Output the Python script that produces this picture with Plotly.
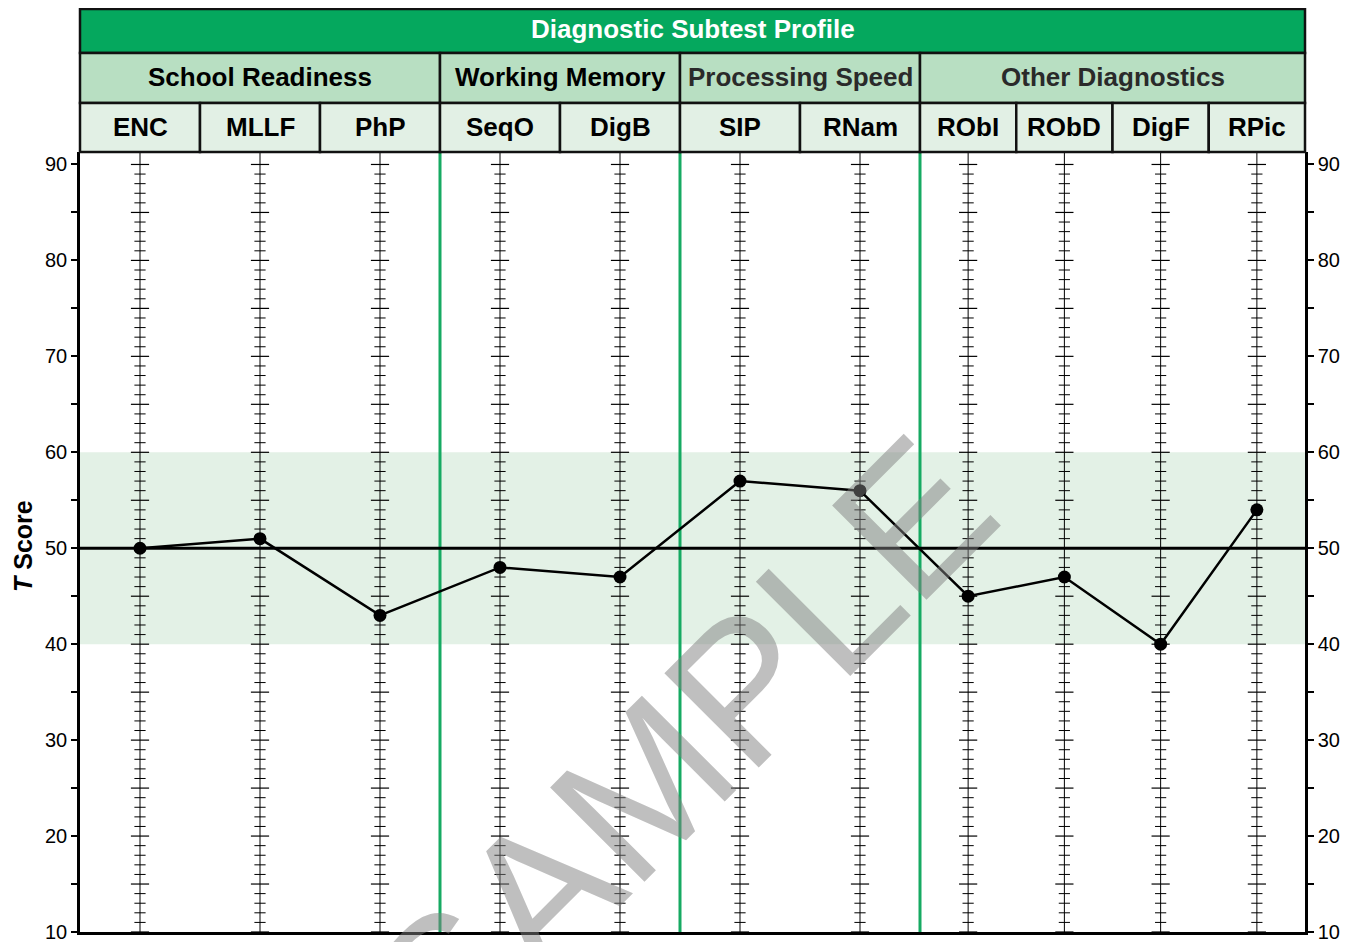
import plotly.graph_objects as go

# ---------------- data ----------------
chart_title = "Diagnostic Subtest Profile"
group_names = ["School Readiness", "Working Memory", "Processing Speed", "Other Diagnostics"]
group_counts = [3, 2, 2, 4]
subtests = ["ENC", "MLLF", "PhP", "SeqO", "DigB", "SIP", "RNam", "RObI", "RObD", "DigF", "RPic"]
t_scores = [50, 51, 43, 48, 47, 57, 56, 45, 47, 40, 54]
y_tick_values = [10, 20, 30, 40, 50, 60, 70, 80, 90]
average_band = [40, 60]
mean_score = 50
y_axis_title = "<b><i>T</i> Score</b>"
watermark_text = "SAMPLE"

# ---------------- layout constants (figure pixels) ----------------
W, H = 1346, 934
L, R = 72, 1297
TOP, BOT = 144, 924
HEADER_TOP, ROW1, ROW2 = 0, 45, 95
cell_w = [120] * 7 + [96.25] * 4
Y_MIN, Y_MAX = 10, 91.3
FONT = "Liberation Sans, Arial, sans-serif"
TITLE_GREEN = "#05A85E"
GROUP_GREEN = "#B8DFC2"
CELL_GREEN = "#E2F0E5"
BAND_GREEN = "#E3F1E6"
SEP_GREEN = "#16AA62"
BORDER = "#111111"

XW = R - L
edges = [0.0]
for w in cell_w:
    edges.append(edges[-1] + w)
centers = [(edges[i] + edges[i + 1]) / 2 for i in range(len(cell_w))]
group_edges = [0]
for c in group_counts:
    group_edges.append(group_edges[-1] + c)


def px(xd):
    return xd / XW


def py(p):
    return (BOT - p) / (BOT - TOP)


fig = go.Figure()

# vertical scale lines at each subtest
vx, vy = [], []
for c in centers:
    vx += [c, c, None]
    vy += [Y_MIN, Y_MAX, None]
fig.add_trace(go.Scatter(x=vx, y=vy, mode="lines", line=dict(color="black", width=1),
                         hoverinfo="skip", showlegend=False))

# small & large tick marks along the scale lines
sx, sy, bx, by = [], [], [], []
for c in centers:
    for v in range(Y_MIN, 91):
        if v % 5 == 0:
            bx.append(c); by.append(v)
        else:
            sx.append(c); sy.append(v)
fig.add_trace(go.Scatter(x=sx, y=sy, mode="markers",
                         marker=dict(symbol="line-ew", size=8, line=dict(color="black", width=1)),
                         hoverinfo="skip", showlegend=False))
fig.add_trace(go.Scatter(x=bx, y=by, mode="markers",
                         marker=dict(symbol="line-ew", size=13, line=dict(color="black", width=1.2)),
                         hoverinfo="skip", showlegend=False))

# mean line
fig.add_trace(go.Scatter(x=[0, XW], y=[mean_score, mean_score], mode="lines",
                         line=dict(color="black", width=3), hoverinfo="skip", showlegend=False))

# profile
fig.add_trace(go.Scatter(x=centers, y=t_scores, mode="lines+markers",
                         line=dict(color="black", width=2.5),
                         marker=dict(color="black", size=13),
                         text=subtests, showlegend=False))

# dummy trace for right axis
fig.add_trace(go.Scatter(x=[centers[0]], y=[mean_score], yaxis="y2", mode="markers",
                         marker=dict(opacity=0), hoverinfo="skip", showlegend=False))

shapes = []
# average band
shapes.append(dict(type="rect", xref="paper", yref="y", x0=0, x1=1,
                   y0=average_band[0], y1=average_band[1],
                   fillcolor=BAND_GREEN, line=dict(width=0), layer="below"))
# group separators
for g in group_edges[1:-1]:
    shapes.append(dict(type="line", xref="paper", yref="paper", x0=px(edges[g]), x1=px(edges[g]),
                       y0=0, y1=1, line=dict(color=SEP_GREEN, width=3), layer="below"))
# header title bar
shapes.append(dict(type="rect", xref="paper", yref="paper", x0=0, x1=1,
                   y0=py(ROW1), y1=py(HEADER_TOP + 1), fillcolor=TITLE_GREEN,
                   line=dict(color=BORDER, width=2.5)))
# group row
for i in range(len(group_names)):
    shapes.append(dict(type="rect", xref="paper", yref="paper",
                       x0=px(edges[group_edges[i]]), x1=px(edges[group_edges[i + 1]]),
                       y0=py(ROW2), y1=py(ROW1), fillcolor=GROUP_GREEN,
                       line=dict(color=BORDER, width=2.5)))
# subtest row
for i in range(len(subtests)):
    shapes.append(dict(type="rect", xref="paper", yref="paper",
                       x0=px(edges[i]), x1=px(edges[i + 1]),
                       y0=py(TOP), y1=py(ROW2), fillcolor=CELL_GREEN,
                       line=dict(color=BORDER, width=2.5)))

annotations = []
annotations.append(dict(text="<b>" + chart_title + "</b>", xref="paper", yref="paper",
                        x=0.5, y=py(21), showarrow=False,
                        font=dict(family=FONT, size=26, color="white"),
                        xanchor="center", yanchor="middle"))
group_colors = ["#000000", "#000000", "#2a2a2a", "#2a2a2a"]
for i, gname in enumerate(group_names):
    xc = (edges[group_edges[i]] + edges[group_edges[i + 1]]) / 2
    annotations.append(dict(text="<b>" + gname + "</b>", xref="x", yref="paper",
                            x=xc, y=py(69), showarrow=False,
                            font=dict(family=FONT, size=26, color=group_colors[i]),
                            xanchor="center", yanchor="middle"))
for i, s in enumerate(subtests):
    annotations.append(dict(text="<b>" + s + "</b>", xref="x", yref="paper",
                            x=centers[i], y=py(119), showarrow=False,
                            font=dict(family=FONT, size=26, color="black"),
                            xanchor="center", yanchor="middle"))
annotations.append(dict(text=y_axis_title, xref="paper", yref="paper",
                        x=px(15 - L), y=py(538), textangle=-90, showarrow=False,
                        font=dict(family=FONT, size=25, color="black"),
                        xanchor="center", yanchor="middle"))
annotations.append(dict(text=watermark_text, xref="paper", yref="paper",
                        x=px(672 - L), y=py(742), textangle=-45, showarrow=False,
                        font=dict(family=FONT, size=194, color="rgba(128,128,128,0.5)"),
                        xanchor="center", yanchor="middle"))

tickvals = list(range(10, 91, 5))
ticktext = [str(v) if v in y_tick_values else "" for v in tickvals]
yaxis_common = dict(range=[Y_MIN, Y_MAX], tickmode="array", tickvals=tickvals, ticktext=ticktext,
                    ticks="outside", ticklen=6, tickwidth=1.5, tickcolor="black",
                    showline=True, linecolor="black", linewidth=2.5,
                    showgrid=False, zeroline=False, ticklabeloverflow="allow",
                    automargin=False,
                    tickfont=dict(family=FONT, size=20, color="black"))

fig.update_layout(
    width=W, height=H,
    margin=dict(l=L, r=W - R, t=TOP, b=H - BOT, pad=0, autoexpand=False),
    paper_bgcolor="white", plot_bgcolor="white",
    xaxis=dict(range=[0, XW], showgrid=False, zeroline=False, showticklabels=False,
               showline=True, linecolor="black", linewidth=2.5, ticks="", automargin=False),
    yaxis=yaxis_common,
    yaxis2=dict(overlaying="y", side="right", **yaxis_common),
    shapes=shapes, annotations=annotations,
    showlegend=False,
)

fig.write_html("out.html")
